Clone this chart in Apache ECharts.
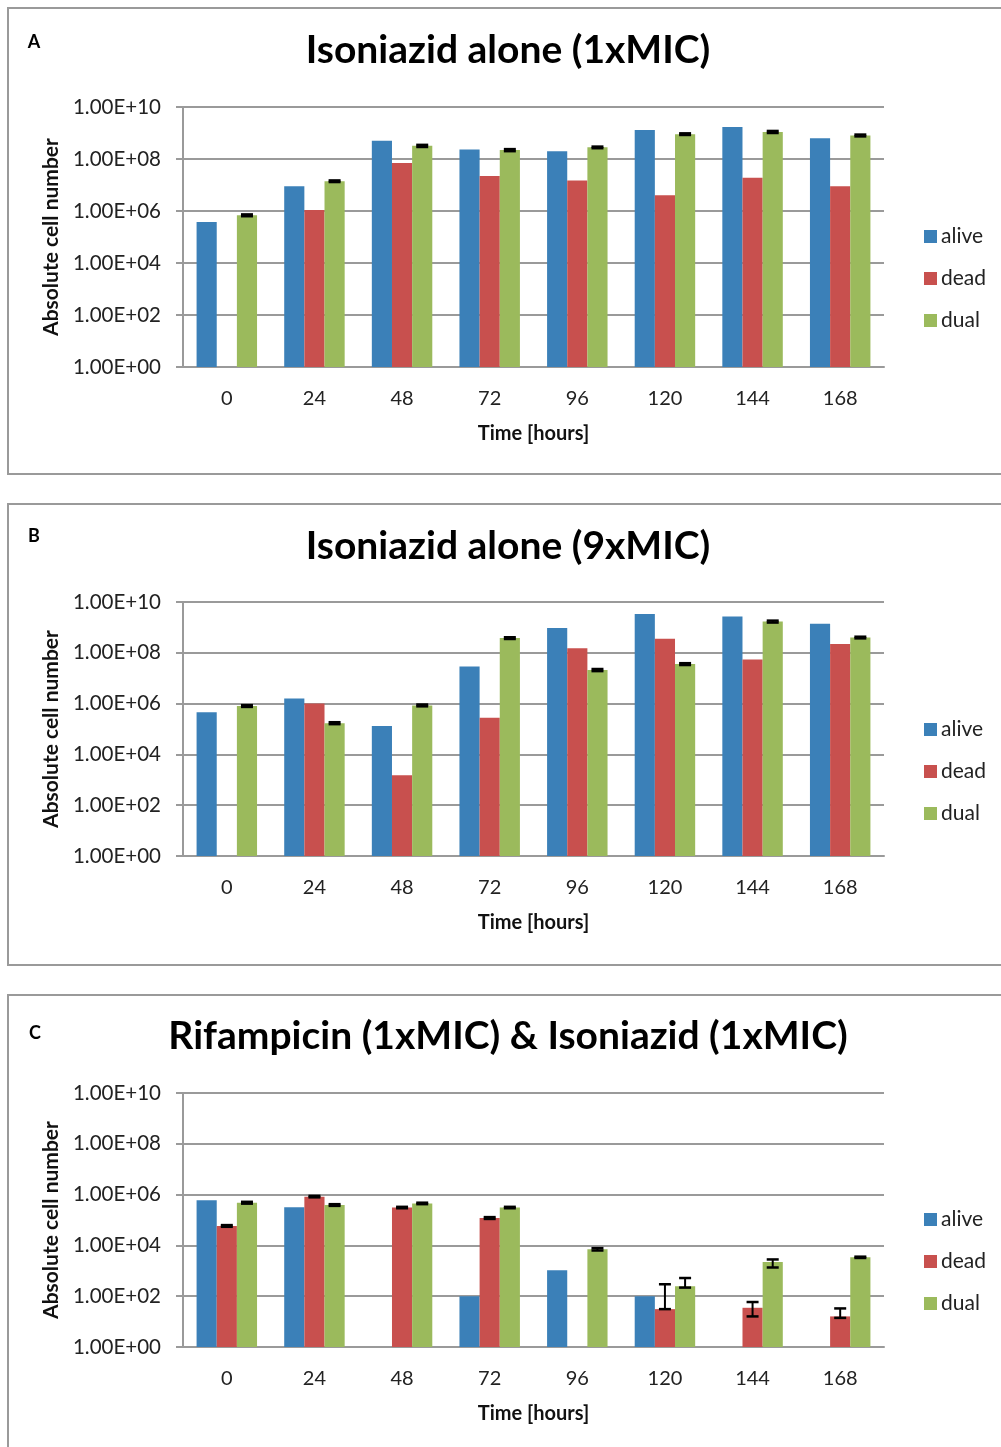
<!DOCTYPE html>
<html>
<head>
<meta charset="utf-8">
<script src="https://cdn.jsdelivr.net/npm/echarts@6/dist/echarts.min.js"></script>
<style>
html,body{margin:0;padding:0;background:#fff;}
#chart{width:1001px;height:1447px;}
</style>
</head>
<body>
<div id="chart"></div>
<script>
// ---- data ----
const hours = ['0', '24', '48', '72', '96', '120', '144', '168'];
const legendNames = ['alive', 'dead', 'dual'];
const titleA = 'Isoniazid alone (1xMIC)';
const titleB = 'Isoniazid alone (9xMIC)';
const titleC = 'Rifampicin (1xMIC) & Isoniazid (1xMIC)';

// Panel A
const aAlive = [3.8e5, 9.0e6, 5.0e8, 2.3e8, 2.0e8, 1.3e9, 1.7e9, 6.3e8];
const aDead  = [null, 1.1e6, 7.0e7, 2.2e7, 1.5e7, 4.0e6, 1.9e7, 9.0e6];
const aDual  = [6.8e5, 1.4e7, 3.2e8, 2.2e8, 2.8e8, 9.0e8, 1.1e9, 8.0e8];
const aDualHi = [7.4e5, 1.5e7, 3.5e8, 2.4e8, 3.0e8, 9.7e8, 1.2e9, 8.7e8];
const aDualLo = [6.3e5, 1.3e7, 2.9e8, 2.0e8, 2.6e8, 8.4e8, 1.0e9, 7.4e8];

// Panel B
const bAlive = [4.6e5, 1.6e6, 1.3e5, 2.9e7, 9.4e8, 3.4e9, 2.7e9, 1.4e9];
const bDead  = [null, 1.0e6, 1.5e3, 2.8e5, 1.5e8, 3.6e8, 5.5e7, 2.2e8];
const bDual  = [8.0e5, 1.7e5, 8.5e5, 3.8e8, 2.1e7, 3.6e7, 1.7e9, 4.0e8];
const bDualHi = [8.7e5, 1.85e5, 9.2e5, 4.1e8, 2.3e7, 3.9e7, 1.85e9, 4.3e8];
const bDualLo = [7.4e5, 1.55e5, 7.8e5, 3.5e8, 1.9e7, 3.3e7, 1.55e9, 3.7e8];

// Panel C
const cAlive = [6.0e5, 3.2e5, null, 100, 1.05e3, 100, null, null];
const cDead  = [5.8e4, 8.3e5, 3.1e5, 1.2e5, null, 31, 35, 16];
const cDual  = [4.8e5, 3.9e5, 4.5e5, 3.1e5, 7.0e3, 245, 2.2e3, 3.4e3];
const cDeadHi = [6.3e4, 8.9e5, 3.3e5, 1.3e5, null, 295, 59, 33];
const cDeadLo = [5.4e4, 7.8e5, 2.9e5, 1.1e5, null, 31, 16, 14];
const cDualHi = [5.2e5, 4.2e5, 4.8e5, 3.3e5, 7.8e3, 520, 2.8e3, 3.6e3];
const cDualLo = [4.4e5, 3.6e5, 4.2e5, 2.9e5, 6.3e3, 218, 1.35e3, 3.2e3];

// ---- styling ----
const FONT = 'Lato';
const GRAY = '#9a9a9a';
const COLORS = ['#3b80b8', '#c8504e', '#9bba5c'];
const CAT_GAP = 0.31;

const grids = [
  {left: 183, width: 701, top: 107, height: 260},
  {left: 183, width: 701, top: 602, height: 254},
  {left: 183, width: 701, top: 1093, height: 254}
];

function fmtExp(v) {
  const e = Math.round(Math.log10(v));
  return '1.00E+' + String(e).padStart(2, '0');
}

function makeX(i) {
  return {
    type: 'category', gridIndex: i, data: hours,
    axisLine: {lineStyle: {color: GRAY, width: 2}},
    axisTick: {length: 7, lineStyle: {color: GRAY, width: 2}},
    axisLabel: {margin: 22, fontSize: 20, color: '#222', fontFamily: FONT},
    name: 'Time [hours]', nameLocation: 'middle', nameGap: 57,
    nameTextStyle: {fontSize: 20, fontWeight: 'bold', color: '#111', fontFamily: FONT}
  };
}
function makeY(i) {
  return {
    type: 'log', logBase: 10, gridIndex: i, min: 1, max: 1e10, interval: 2,
    axisLine: {show: true, lineStyle: {color: GRAY, width: 2}},
    axisTick: {show: true, length: 7, lineStyle: {color: GRAY, width: 2}},
    splitLine: {show: true, lineStyle: {color: GRAY, width: 2}},
    axisLabel: {margin: 22, fontSize: 20.5, color: '#222', fontFamily: FONT, formatter: fmtExp},
    name: 'Absolute cell number', nameLocation: 'middle', nameGap: 119, nameRotate: 90,
    nameTextStyle: {fontSize: 21, fontWeight: 'bold', color: '#111', fontFamily: FONT}
  };
}
function bar(name, data, gi, ci) {
  return {
    type: 'bar', name: name, xAxisIndex: gi, yAxisIndex: gi,
    data: data.map(v => v == null ? '-' : v),
    barGap: '0%', barCategoryGap: (CAT_GAP * 100) + '%',
    itemStyle: {color: COLORS[ci]}, z: 2
  };
}
function errSeries(lo, hi, gi, barIdx) {
  const d = [];
  hours.forEach((h, i) => { if (lo[i] != null && hi[i] != null) d.push([i, lo[i], hi[i]]); });
  return {
    type: 'custom', xAxisIndex: gi, yAxisIndex: gi, z: 10, silent: true,
    encode: {x: 0, y: [1, 2]},
    data: d,
    renderItem: function (params, api) {
      const x = api.value(0), l = api.value(1), u = api.value(2);
      const pL = api.coord([x, l]);
      const pU = api.coord([x, u]);
      const bandW = api.size([1, 0])[0];
      const bw = bandW * (1 - CAT_GAP) / 3;
      const cx = pL[0] + (barIdx - 1) * bw;
      const hw = 6;
      const st = {stroke: '#000', lineWidth: 2.5};
      return {type: 'group', children: [
        {type: 'line', shape: {x1: cx, y1: pU[1], x2: cx, y2: pL[1]}, style: {stroke: '#000', lineWidth: 2}},
        {type: 'line', shape: {x1: cx - hw, y1: pU[1], x2: cx + hw, y2: pU[1]}, style: st},
        {type: 'line', shape: {x1: cx - hw, y1: pL[1], x2: cx + hw, y2: pL[1]}, style: st}
      ]};
    }
  };
}
function legendAt(top) {
  return {
    data: legendNames, orient: 'vertical', left: 919, top: top,
    icon: 'rect', itemWidth: 13, itemHeight: 13, itemGap: 19, itemStyle: {borderWidth: 0},
    textStyle: {fontSize: 21, color: '#222', fontFamily: FONT, lineHeight: 23, padding: [0, 0, 0, -1]},
    selectedMode: false
  };
}
function titleAt(text, y) {
  return {
    text: text, left: 508, top: y, textAlign: 'center', padding: 0,
    textStyle: {fontSize: 39, fontWeight: 'bold', color: '#000', fontFamily: FONT}
  };
}
function boxRect(y, h) {
  return {type: 'rect', shape: {x: 8, y: y, width: 1030, height: h}, style: {fill: 'none', stroke: GRAY, lineWidth: 2}, z: -1};
}
function letter(t, x, y) {
  return {type: 'text', x: x, y: y, style: {text: t, font: 'bold 18px ' + FONT, fill: '#000', align: 'center', verticalAlign: 'middle'}};
}

const option = {
  backgroundColor: '#fff',
  animation: false,
  color: COLORS,
  title: [titleAt(titleA, 31), titleAt(titleB, 527), titleAt(titleC, 1017)],
  legend: [legendAt(220), legendAt(713), legendAt(1203)],
  grid: grids,
  xAxis: [makeX(0), makeX(1), makeX(2)],
  yAxis: [makeY(0), makeY(1), makeY(2)],
  graphic: [
    boxRect(8, 466), boxRect(504, 461), boxRect(995, 470),
    letter('A', 34, 42), letter('B', 34, 536), letter('C', 35, 1033)
  ],
  series: [
    bar('alive', aAlive, 0, 0), bar('dead', aDead, 0, 1), bar('dual', aDual, 0, 2),
    errSeries(aDualLo, aDualHi, 0, 2),
    bar('alive', bAlive, 1, 0), bar('dead', bDead, 1, 1), bar('dual', bDual, 1, 2),
    errSeries(bDualLo, bDualHi, 1, 2),
    bar('alive', cAlive, 2, 0), bar('dead', cDead, 2, 1), bar('dual', cDual, 2, 2),
    errSeries(cDeadLo, cDeadHi, 2, 1),
    errSeries(cDualLo, cDualHi, 2, 2)
  ]
};
const chart = echarts.init(document.getElementById('chart'), null, {renderer: 'canvas'});
chart.setOption(option);
</script>
</body>
</html>
